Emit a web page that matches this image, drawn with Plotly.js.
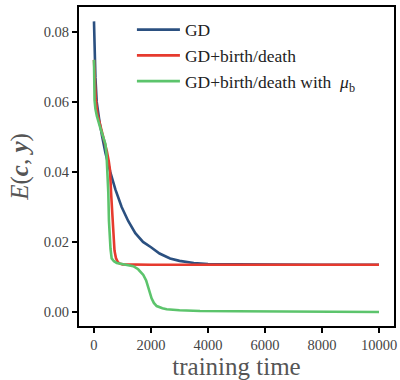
<!DOCTYPE html>
<html>
<head>
<meta charset="utf-8">
<script src="https://cdn.plot.ly/plotly-3.0.1.min.js"></script>
<style>
html,body{margin:0;padding:0;background:#fff;}
#chart{width:400px;height:380px;}
</style>
</head>
<body>
<div id="chart"></div>
<script>
// GD
const gdT = [0, 20, 50, 95, 150, 200, 290, 400, 570, 750, 970, 1200, 1450, 1720, 2000, 2300, 2670, 3000, 3500, 4000, 5000, 6000, 8000, 10000];
const gdE = [0.083, 0.075, 0.067, 0.060, 0.0565, 0.054, 0.050, 0.0455, 0.040, 0.035, 0.030, 0.026, 0.0225, 0.020, 0.0185, 0.0167, 0.0153, 0.0146, 0.0140, 0.0137, 0.0136, 0.0135, 0.0135, 0.0135];
// GD + birth/death
const bdT = [0, 30, 60, 120, 200, 300, 386, 450, 520, 561, 600, 640, 680, 720, 770, 840, 910, 1000, 2000, 4000, 10000];
const bdE = [0.072, 0.065, 0.061, 0.0565, 0.054, 0.0505, 0.048, 0.046, 0.043, 0.0406, 0.034, 0.027, 0.0206, 0.0175, 0.0154, 0.0142, 0.0138, 0.0136, 0.0135, 0.0135, 0.0135];
// GD + birth/death with mu_b
const muT = [0, 8, 20, 50, 100, 210, 320, 400, 440, 468, 503, 525, 550, 580, 620, 700, 800, 1000, 1200, 1380, 1550, 1730, 1830, 1900, 1960, 2020, 2100, 2200, 2400, 2550, 3000, 3720, 5000, 7000, 10000];
const muE = [0.072, 0.066, 0.0605, 0.058, 0.056, 0.0529, 0.050, 0.048, 0.045, 0.0415, 0.0339, 0.026, 0.0206, 0.018, 0.0153, 0.0145, 0.0140, 0.0137, 0.0134, 0.0131, 0.0122, 0.0106, 0.0090, 0.0072, 0.0052, 0.0039, 0.0026, 0.0017, 0.0011, 0.0008, 0.0005, 0.0003, 0.0002, 0.0001, 0.0];

const names = ['GD', 'GD+birth/death', 'GD+birth/death with  <i>μ</i><sub>b</sub>'];
const colors = ['#2b5080', '#e63a2e', '#5cc46c'];
const xTicks = [0, 2000, 4000, 6000, 8000, 10000];
const xTickText = ['0', '2000', '4000', '6000', '8000', '10000'];
const yTicks = [0, 0.02, 0.04, 0.06, 0.08];
const yTickText = ['0.00', '0.02', '0.04', '0.06', '0.08'];

const series = [[gdT, gdE], [bdT, bdE], [muT, muE]];
const data = series.map((s, i) => ({
  x: s[0], y: s[1], type: 'scatter', mode: 'lines', name: names[i],
  legendgroup: 'g' + i,
  line: {color: colors[i], width: 2.6}
}));

const SERIF = "Liberation Serif, serif";
const layout = {
  width: 400, height: 380,
  font: {family: SERIF},
  margin: {l: 79, r: 6, t: 7, b: 54},
  paper_bgcolor: '#fff', plot_bgcolor: '#fff',
  showlegend: true,
  legend: {x: 0.168, y: 0.985, xanchor: 'left', yanchor: 'top', bgcolor: 'rgba(0,0,0,0)',
           borderwidth: 0, tracegroupgap: 0, itemwidth: 43,
           font: {family: SERIF, size: 17.5, color: '#222'}},
  xaxis: {range: [-526, 10526], tickvals: xTicks, ticktext: xTickText,
          ticks: 'outside', ticklen: 5, tickwidth: 1.5, tickcolor: '#000',
          showline: true, linecolor: '#000', linewidth: 2, mirror: true,
          showgrid: false, zeroline: false,
          tickfont: {family: SERIF, size: 14.5, color: '#444'},
          title: {text: 'training time', font: {family: SERIF, size: 25, color: '#555'}, standoff: 2}},
  yaxis: {range: [-0.004, 0.0871], tickvals: yTicks, ticktext: yTickText,
          ticks: 'outside', ticklen: 5, tickwidth: 1.5, tickcolor: '#000',
          showline: true, linecolor: '#000', linewidth: 2, mirror: true,
          showgrid: false, zeroline: false,
          tickfont: {family: SERIF, size: 14.5, color: '#444'},
          title: {text: '<i>E</i>(<b><i>c</i></b>, <b><i>y</i></b>)', font: {family: SERIF, size: 25, color: '#555'}, standoff: 8}}
};
Plotly.newPlot('chart', data, layout, {displayModeBar: false, staticPlot: true});
</script>
</body>
</html>
